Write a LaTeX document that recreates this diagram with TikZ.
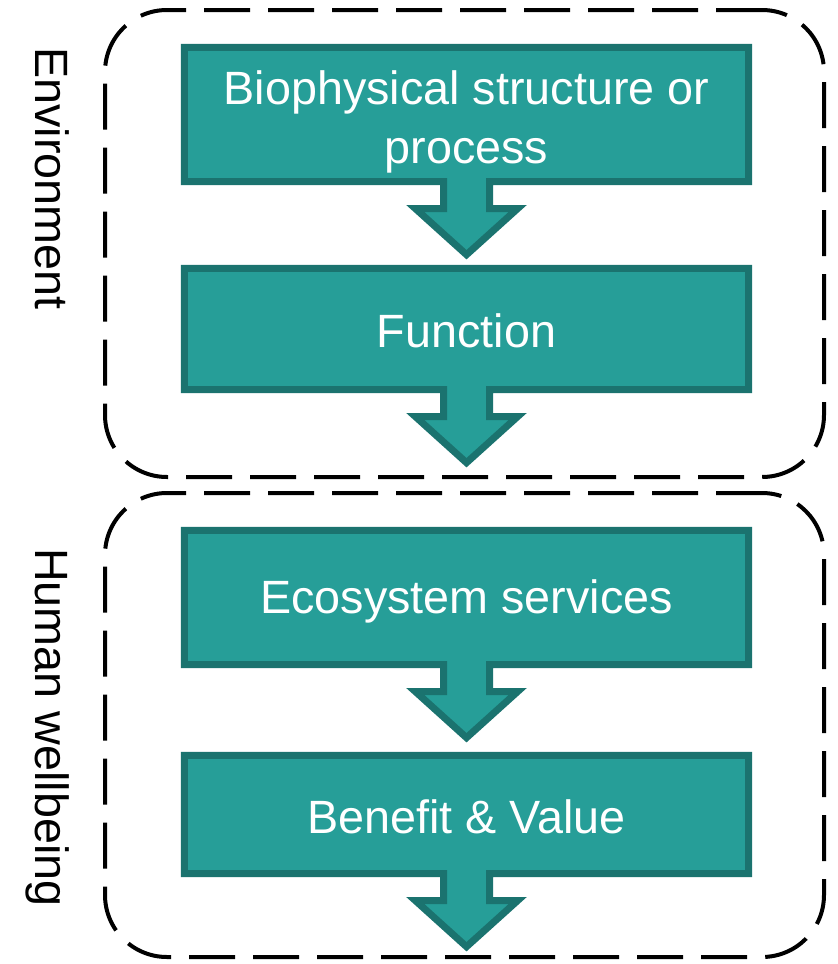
\documentclass[tikz,border=0pt]{standalone}
\usepackage{fontspec}
\setmainfont{Liberation Sans}
\usetikzlibrary{backgrounds}
\definecolor{tealfill}{RGB}{38,158,152}
\definecolor{tealline}{RGB}{27,115,111}
\tikzset{
  calloutshape/.style={fill=tealfill, draw=tealline, line width=7pt},
  boxframe/.style={rectangle, inner sep=0pt, minimum width=564pt},
  boxtext/.style={inner sep=0pt, text=white, align=center,
    font=\fontsize{46.7}{59}\selectfont},
  groupbox/.style={draw=black, line width=4pt, dash pattern=on 46pt off 18pt, rounded corners=62pt,
    minimum width=719pt, inner sep=0pt},
  sidelabel/.style={rotate=-90, anchor=base west, inner sep=0pt, font=\fontsize{46.7}{56}\selectfont}
}
\newcommand\calloutpath[1]{%
  \begin{scope}[on background layer]
  \draw[calloutshape] (#1.north west) -- (#1.north east) -- (#1.south east)
    -- ([xshift=23pt]#1.south) -- ([xshift=23pt,yshift=-27pt]#1.south)
    -- ([xshift=51pt,yshift=-27pt]#1.south) -- ([yshift=-73pt]#1.south)
    -- ([xshift=-51pt,yshift=-27pt]#1.south) -- ([xshift=-23pt,yshift=-27pt]#1.south)
    -- ([xshift=-23pt]#1.south) -- (#1.south west) -- cycle;
  \end{scope}}
\begin{document}
\begin{tikzpicture}[x=1pt, y=-1pt]
\useasboundingbox (0,0) rectangle (838,964);
% group boxes
\node[groupbox, minimum height=467pt] (env) at (464.5,243.5) {};
\node[groupbox, minimum height=464pt] (hum) at (464.5,725) {};
% callout boxes
\node[boxframe, minimum height=134pt] (b1) at (466.5,114.5) {};
\node[boxframe, minimum height=121pt] (b2) at (466.5,329) {};
\node[boxframe, minimum height=134pt] (b3) at (466.5,597.5) {};
\node[boxframe, minimum height=118pt] (b4) at (466.5,814.5) {};
\node[boxtext] (t1) at ([yshift=-7pt]b1.center) {Biophysical structure or\\process};
\node[boxtext] (t2) at ([yshift=-2pt]b2.center) {Function};
\node[boxtext] (t3) at ([yshift=-4pt]b3.center) {Ecosystem services};
\node[boxtext] (t4) at ([yshift=-2pt]b4.center) {Benefit \& Value};
\calloutpath{b1}
\calloutpath{b2}
\calloutpath{b3}
\calloutpath{b4}
% side labels
\node[sidelabel] (lenv) at (35,47) {Environment};
\node[sidelabel] (lhum) at (35,548) {Human wellbeing};
\end{tikzpicture}
\end{document}
